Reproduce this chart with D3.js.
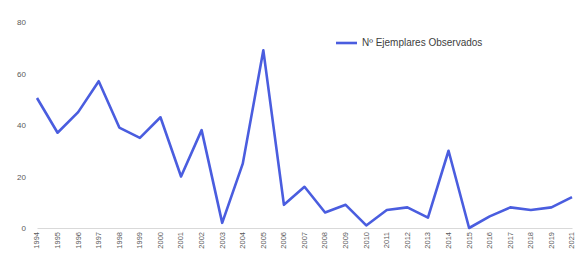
<!DOCTYPE html>
<html>
<head>
<meta charset="utf-8">
<script src="https://cdn.jsdelivr.net/npm/d3@7"></script>
<style>
  body { margin: 0; background: #fff; }
  text { font-family: "Liberation Sans", Arial, sans-serif; }
</style>
</head>
<body>
<svg id="chart" width="579" height="259"></svg>
<script>
// years (2020 has no entry in the source)
const years = ['1994','1995','1996','1997','1998','1999','2000','2001','2002','2003',
  '2004','2005','2006','2007','2008','2009','2010','2011','2012','2013',
  '2014','2015','2016','2017','2018','2019','2021'];
const observed = [50.5, 37, 45, 57, 39, 35, 43, 20, 38, 2,
  25, 69, 9, 16, 6, 9, 1, 7, 8, 4,
  30, 0, 4.5, 8, 7, 8, 12];
const yTicks = [0, 20, 40, 60, 80];
const seriesName = 'Nº Ejemplares Observados';

const svg = d3.select('#chart');
const margin = { top: 22, right: 7, bottom: 31, left: 37 };
const width = 579, height = 259;
const innerWidth = width - margin.left - margin.right;
const innerHeight = height - margin.top - margin.bottom;

const g = svg.append('g')
  .attr('transform', `translate(${margin.left},${margin.top})`);

const xScale = d3.scalePoint()
  .domain(years)
  .range([0, innerWidth]);

const yScale = d3.scaleLinear()
  .domain([0, 80])
  .range([innerHeight, 0]);

// y axis: labels only
const yAxis = d3.axisLeft(yScale)
  .tickValues(yTicks)
  .tickSize(0)
  .tickPadding(11);
const yAxisG = g.append('g').call(yAxis);
yAxisG.select('.domain').remove();
yAxisG.selectAll('text')
  .attr('fill', '#595959')
  .style('font-size', '8px');

// x axis: baseline + rotated year labels
const xAxis = d3.axisBottom(xScale)
  .tickSize(0)
  .tickFormat('');
const xAxisG = g.append('g')
  .attr('transform', `translate(0,${innerHeight})`)
  .call(xAxis);
xAxisG.select('.domain')
  .attr('stroke', '#d9d9d9')
  .attr('stroke-width', 1);

g.append('g')
  .selectAll('g')
  .data(years)
  .join('g')
    .attr('transform', d => `translate(${xScale(d)},${innerHeight + 4}) rotate(-90)`)
  .append('text')
    .attr('fill', '#595959')
    .style('font-size', '7.5px')
    .attr('text-anchor', 'end')
    .attr('dy', '0.32em')
    .text(d => d);

const lineGenerator = d3.line()
  .x((d, i) => xScale(years[i]))
  .y(d => yScale(d));

g.append('path')
  .attr('fill', 'none')
  .attr('stroke', '#4a5ddf')
  .attr('stroke-width', 2.6)
  .attr('stroke-linejoin', 'round')
  .attr('d', lineGenerator(observed));

// legend
const legend = svg.append('g').attr('transform', 'translate(336,43)');
legend.append('line')
  .attr('x1', 0).attr('x2', 21)
  .attr('stroke', '#4a5ddf')
  .attr('stroke-width', 2.6);
legend.append('text')
  .attr('x', 26)
  .attr('dy', '0.32em')
  .attr('fill', '#404040')
  .style('font-size', '10px')
  .text(seriesName);
</script>
</body>
</html>
